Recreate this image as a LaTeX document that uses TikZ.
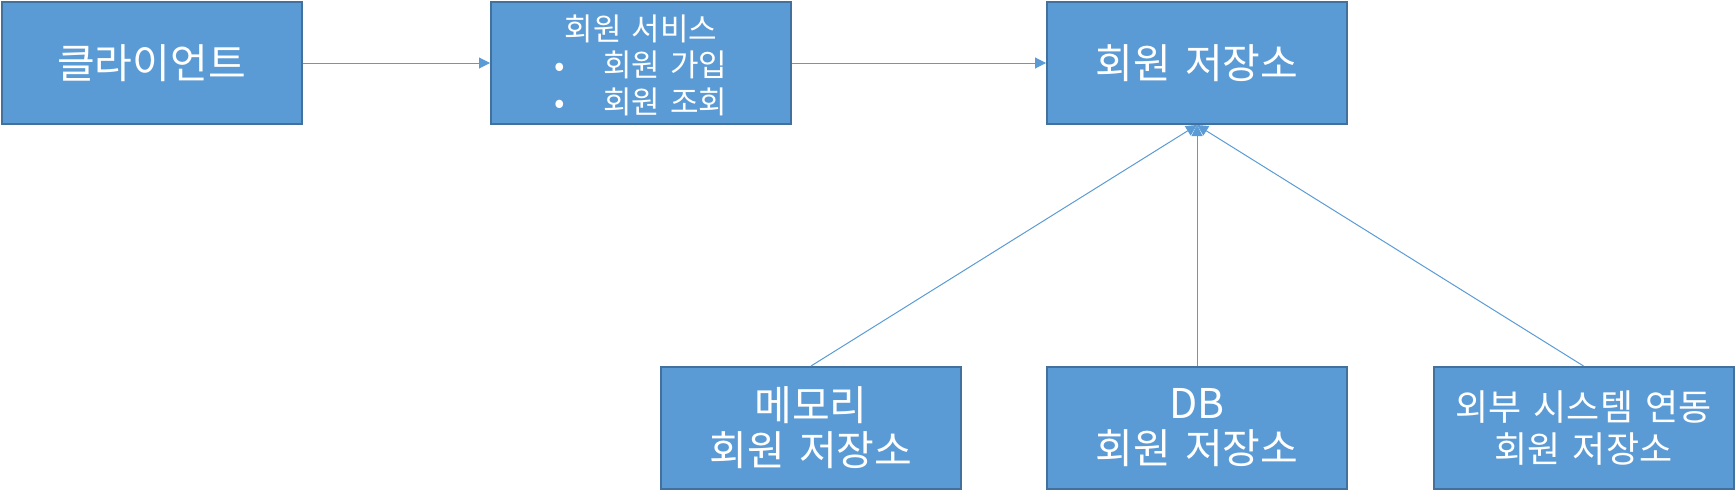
\documentclass[tikz,border=0pt]{standalone}
\usepackage{fontspec}
\newfontfamily\kr[WordSpace=1.5]{Noto Sans CJK KR}
\usetikzlibrary{arrows.meta}
\definecolor{boxfill}{HTML}{5B9BD5}
\definecolor{boxline}{HTML}{41719C}
\tikzset{
  blockbox/.style={draw=boxline, line width=2pt, fill=boxfill, text=white,
    minimum width=300pt, minimum height=122pt, inner sep=0pt, align=center, font=\kr},
  conn/.style={draw=boxfill, line width=1pt, -{Triangle[length=11pt,width=11pt]}},
  bigtxt/.style={font=\kr\fontsize{41}{45}\selectfont},
}
\begin{document}
\begin{tikzpicture}[x=1pt,y=-1pt]
\useasboundingbox (0,0) rectangle (1736,498);
\node[blockbox, bigtxt] (client) at (151.5,63) {클라이언트};
\node[blockbox, font=\kr\fontsize{31}{36}\selectfont] (service) at (641,63)
  {\raisebox{0pt}[\dimexpr\height+13pt\relax][\depth]{\begin{tabular}{@{}l@{\hspace{38pt}}l@{}}\multicolumn{2}{@{}c@{}}{회원 서비스}\\ •&회원 가입\\ •&회원 조회\end{tabular}}};
\node[blockbox, bigtxt] (store) at (1197,63) {회원 저장소};
\node[blockbox, bigtxt] (mem) at (811,428) {메모리\\회원 저장소};
\node[blockbox, bigtxt] (db) at (1197,428) {DB\\회원 저장소};
\node[blockbox, font=\kr\fontsize{36}{42}\selectfont] (ext) at (1583.5,428) {외부 시스템 연동\\회원 저장소};
\draw[conn] (client) -- (service);
\draw[conn] (service) -- (store);
\draw[conn] (mem.north) -- (store.south);
\draw[conn] (db.north) -- (store.south);
\draw[conn] (ext.north) -- (store.south);
\end{tikzpicture}
\end{document}
